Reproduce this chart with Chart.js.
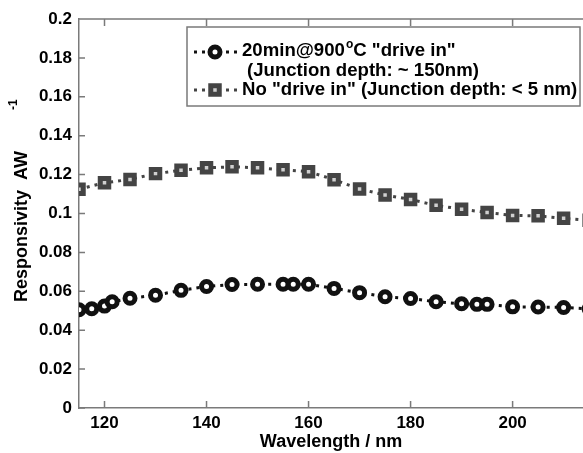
<!DOCTYPE html>
<html>
<head>
<meta charset="utf-8">
<script src="https://cdn.jsdelivr.net/npm/chart.js"></script>
<style>
  html, body { margin: 0; padding: 0; background: #fff; overflow: hidden; }
  #wrap { width: 583px; height: 453px; }
</style>
</head>
<body>
<div id="wrap"><canvas id="chart" width="583" height="453"></canvas></div>
<script>
// Series
const wavelengthDriveIn = [115, 117.5, 120, 121.5, 125, 130, 135, 140, 145, 150, 155, 157, 160, 165, 170, 175, 180, 185, 190, 193, 195, 200, 205, 210, 215];
const respDriveIn = [0.0505, 0.051, 0.0524, 0.0546, 0.0564, 0.058, 0.0605, 0.0625, 0.0635, 0.0636, 0.0636, 0.0636, 0.0636, 0.0615, 0.0593, 0.0572, 0.0563, 0.0546, 0.0536, 0.0533, 0.0533, 0.052, 0.0519, 0.0517, 0.051];

const wavelengthNoDrive = [115, 120, 125, 130, 135, 140, 145, 150, 155, 160, 165, 170, 175, 180, 185, 190, 195, 200, 205, 210, 215];
const respNoDrive = [0.1125, 0.1158, 0.1175, 0.1205, 0.1222, 0.1235, 0.124, 0.1235, 0.1225, 0.1215, 0.1174, 0.1126, 0.1095, 0.1072, 0.1042, 0.1022, 0.1005, 0.099, 0.0988, 0.0975, 0.0965];

const xTicks = [120, 140, 160, 180, 200];
const yTicks = [0, 0.02, 0.04, 0.06, 0.08, 0.1, 0.12, 0.14, 0.16, 0.18, 0.2];

const FONT = "'Liberation Sans', Arial, sans-serif";
const axisColor = '#7a7a7a';

function toPoints(xs, ys) {
  return xs.map((x, i) => ({ x: x, y: ys[i] }));
}

const circleStyle = { pointStyle: 'circle', radius: 5, borderWidth: 5, borderColor: '#111', backgroundColor: '#fff', rotation: 0 };
const squareStyle = { pointStyle: 'rect', radius: 6, borderWidth: 5, borderColor: '#444', backgroundColor: '#d0d0d0', rotation: 0 };

// inward ticks and the top spine, MATLAB style
const frame = {
  id: 'frame',
  afterDatasetsDraw(chart) {
    const { ctx, chartArea: a, scales } = chart;
    ctx.save();
    ctx.strokeStyle = axisColor;
    ctx.lineWidth = 1.5;
    ctx.beginPath();
    ctx.moveTo(a.left, a.top);
    ctx.lineTo(a.right + 2, a.top);
    xTicks.forEach(v => {
      const px = scales.x.getPixelForValue(v);
      ctx.moveTo(px, a.bottom); ctx.lineTo(px, a.bottom - 7);
      ctx.moveTo(px, a.top); ctx.lineTo(px, a.top + 7);
    });
    yTicks.forEach(v => {
      const py = scales.y.getPixelForValue(v);
      ctx.moveTo(a.left, py); ctx.lineTo(a.left + 6, py);
    });
    ctx.stroke();
    ctx.restore();
  }
};

// legend box and y title with superscripts
const extras = {
  id: 'extras',
  afterDraw(chart) {
    const ctx = chart.ctx;
    ctx.save();
    // legend box
    ctx.fillStyle = '#fff';
    ctx.fillRect(187, 27, 393, 79);
    ctx.strokeStyle = axisColor;
    ctx.lineWidth = 1.5;
    ctx.strokeRect(187, 27, 393, 79);

    const samples = [
      { y: 52, style: circleStyle, color: '#111' },
      { y: 90, style: squareStyle, color: '#444' }
    ];
    samples.forEach(s => {
      ctx.save();
      ctx.strokeStyle = s.color;
      ctx.lineWidth = 3;
      ctx.setLineDash([3, 5]);
      ctx.beginPath();
      ctx.moveTo(194, s.y); ctx.lineTo(238, s.y);
      ctx.stroke();
      ctx.restore();
      ctx.save();
      ctx.strokeStyle = s.style.borderColor;
      ctx.fillStyle = s.style.backgroundColor;
      ctx.lineWidth = s.style.borderWidth;
      Chart.helpers.drawPoint(ctx, s.style, 215, s.y);
      ctx.restore();
    });

    ctx.fillStyle = '#000';
    ctx.textBaseline = 'middle';
    ctx.textAlign = 'left';
    const big = 'bold 18.6px ' + FONT;
    ctx.font = big;
    let x = 242;
    ctx.fillText('20min@900', x, 51);
    x += ctx.measureText('20min@900').width;
    ctx.font = 'bold 12px ' + FONT;
    ctx.fillText('o', x + 1, 45);
    x += ctx.measureText('o').width + 1;
    ctx.font = big;
    ctx.fillText('C "drive in"', x, 51);
    ctx.fillText('(Junction depth: ~ 150nm)', 247, 70.5);
    ctx.fillText('No "drive in" (Junction depth: < 5 nm)', 242, 90);

    // y axis title
    ctx.translate(22, 302);
    ctx.rotate(-Math.PI / 2);
    ctx.font = 'bold 18px ' + FONT;
    ctx.fillText('Responsivity  AW', 0, 0);
    ctx.font = 'bold 12px ' + FONT;
    ctx.fillText('-1', 192, -8);
    ctx.restore();
  }
};

new Chart(document.getElementById('chart'), {
  type: 'line',
  data: {
    datasets: [
      {
        label: '20min@900oC "drive in" (Junction depth: ~ 150nm)',
        data: toPoints(wavelengthDriveIn, respDriveIn),
        borderColor: '#111',
        borderWidth: 3,
        borderDash: [3, 5],
        pointStyle: circleStyle.pointStyle,
        pointRadius: circleStyle.radius,
        pointBorderWidth: circleStyle.borderWidth,
        pointBorderColor: circleStyle.borderColor,
        pointBackgroundColor: circleStyle.backgroundColor,
        tension: 0
      },
      {
        label: 'No "drive in" (Junction depth: < 5 nm)',
        data: toPoints(wavelengthNoDrive, respNoDrive),
        borderColor: '#444',
        borderWidth: 3,
        borderDash: [3, 5],
        pointStyle: squareStyle.pointStyle,
        pointRadius: squareStyle.radius,
        pointBorderWidth: squareStyle.borderWidth,
        pointBorderColor: squareStyle.borderColor,
        pointBackgroundColor: squareStyle.backgroundColor,
        tension: 0
      }
    ]
  },
  options: {
    responsive: false,
    animation: false,
    layout: { autoPadding: false, padding: { top: 19, right: 0, left: 0, bottom: 0 } },
    plugins: { legend: { display: false }, tooltip: { enabled: false } },
    scales: {
      x: {
        type: 'linear',
        min: 115,
        max: 213.8,
        afterBuildTicks: s => { s.ticks = xTicks.map(v => ({ value: v })); },
        afterFit: s => { s.height = 45; s.paddingLeft = 0; s.paddingRight = 0; },
        grid: { display: false, drawTicks: false },
        border: { display: true, color: axisColor, width: 1.5 },
        ticks: { color: '#000', padding: 5, maxRotation: 0, font: { family: FONT, size: 17, weight: 'bold' } },
        title: { display: true, text: 'Wavelength / nm', color: '#000', padding: { top: 0, bottom: 0 }, font: { family: FONT, size: 18, weight: 'bold' } }
      },
      y: {
        min: 0,
        max: 0.2,
        afterBuildTicks: s => { s.ticks = yTicks.map(v => ({ value: v })); },
        afterFit: s => { s.width = 79; s.paddingTop = 0; s.paddingBottom = 0; },
        grid: { display: false, drawTicks: false },
        border: { display: true, color: axisColor, width: 1.5 },
        ticks: { color: '#000', padding: 7, callback: v => String(+v.toFixed(2)), font: { family: FONT, size: 17, weight: 'bold' } }
      }
    }
  },
  plugins: [frame, extras]
});
</script>
</body>
</html>
